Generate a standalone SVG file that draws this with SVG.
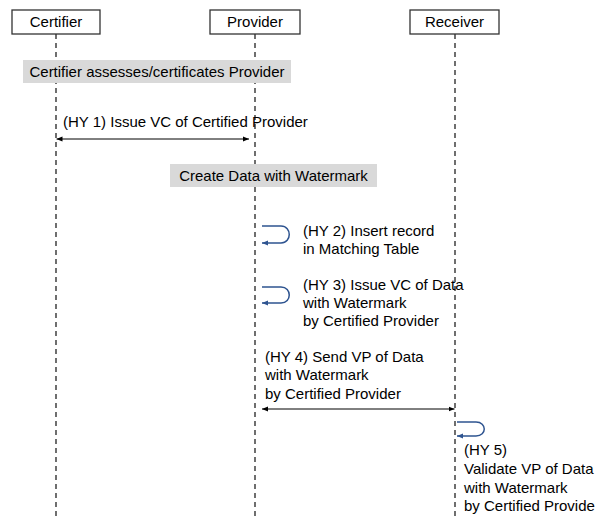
<svg xmlns="http://www.w3.org/2000/svg" width="599" height="517" viewBox="0 0 599 517">
<defs>
<style>
text{font-family:"Liberation Sans",Arial,sans-serif;font-size:15px;fill:#000}
.box{fill:#fff;stroke:#333;stroke-width:1.3}
.life{stroke:#222;stroke-width:1.3;stroke-dasharray:5,4;fill:none}
.bar{fill:#d9d9d9}
.msg{stroke:#000;stroke-width:1;fill:none;marker-start:url(#ah);marker-end:url(#ah)}
.loop{stroke:#2e5490;stroke-width:1.5;fill:none;marker-end:url(#ahb)}
</style>
<marker id="ah" viewBox="0 0 10 10" refX="10" refY="5" markerWidth="6" markerHeight="6" markerUnits="userSpaceOnUse" orient="auto-start-reverse"><path d="M0,1 L10,5 L0,9 z" fill="#000"/></marker>
<marker id="ahb" viewBox="0 0 10 10" refX="10" refY="5" markerWidth="6" markerHeight="6" markerUnits="userSpaceOnUse" orient="auto"><path d="M0,1 L10,5 L0,9 z" fill="#2e5490"/></marker>
</defs>
<g id="lifelines">
<line class="life" x1="56" y1="34" x2="56" y2="517"/>
<line class="life" x1="255" y1="34" x2="255" y2="517"/>
<line class="life" x1="455" y1="34" x2="455" y2="517"/>
</g>
<g id="certifier"><rect class="box" x="12" y="10" width="88" height="24"/><text x="56" y="27" text-anchor="middle">Certifier</text></g>
<g id="provider"><rect class="box" x="210" y="10" width="90" height="24"/><text x="255" y="27" text-anchor="middle">Provider</text></g>
<g id="receiver"><rect class="box" x="410" y="10" width="89" height="24"/><text x="454.5" y="27" text-anchor="middle">Receiver</text></g>
<g id="note-assess"><rect class="bar" x="23" y="60" width="268" height="23"/><text x="157" y="77" text-anchor="middle">Certifier assesses/certificates Provider</text></g>
<g id="note-create"><rect class="bar" x="170" y="164" width="207" height="23"/><text x="273.5" y="181" text-anchor="middle">Create Data with Watermark</text></g>
<g id="connectors">
<line class="msg" x1="56.5" y1="139" x2="249" y2="139"/>
<path class="loop" d="M262,226 H281 C292,226 292,243 281,243 H262"/>
<path class="loop" d="M262,287 H281 C292,287 292,303 281,303 H262"/>
<line class="msg" x1="262" y1="409" x2="454.5" y2="409"/>
<path class="loop" d="M457,422 H476 C487,422 487,436 476,436 H457"/>
</g>
<g id="labels">
<text x="63" y="127">(HY 1) Issue VC of Certified Provider</text>
<text x="303" y="236">(HY 2) Insert record</text>
<text x="303" y="254">in Matching Table</text>
<text x="303" y="290">(HY 3) Issue VC of Data</text>
<text x="303" y="308">with Watermark</text>
<text x="303" y="326">by Certified Provider</text>
<text x="265" y="362">(HY 4) Send VP of Data</text>
<text x="265" y="380">with Watermark</text>
<text x="265" y="399">by Certified Provider</text>
<text x="464" y="455">(HY 5)</text>
<text x="464" y="474">Validate VP of Data</text>
<text x="464" y="493">with Watermark</text>
<text x="464" y="511">by Certified Provide</text>
</g>
</svg>
